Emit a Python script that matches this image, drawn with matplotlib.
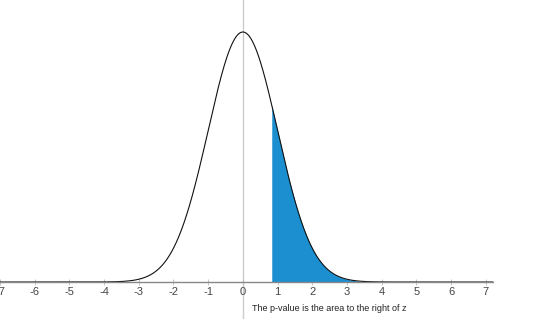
import numpy as np
import matplotlib
matplotlib.use("Agg")
import matplotlib.pyplot as plt

z_value = 0.83
tick_values = list(range(-7, 8))
caption = "The p-value is the area to the right of z"

x = np.linspace(-7.2, 7.2, 2000)
pdf = np.exp(-x**2 / 2) / np.sqrt(2 * np.pi)

fig = plt.figure(figsize=(5.6, 3.19), dpi=100)
ax = fig.add_axes([0, 0, 1, 1])
ax.set_xlim(-6.77, 9.14)
ax.set_ylim(-0.059, 0.45)

ax.axvline(0, color="#cccccc", lw=1, zorder=1)

mask = x >= z_value
ax.fill_between(x[mask], 0, pdf[mask], color="#1b8fd0", lw=0, zorder=2)
ax.plot(x, pdf, color="#111111", lw=0.8, zorder=3)

for s in ["top", "right", "left"]:
    ax.spines[s].set_visible(False)
ax.spines["bottom"].set_position(("data", 0))
ax.spines["bottom"].set_bounds(-7.2, 7.2)
ax.spines["bottom"].set_color("#888888")
ax.spines["bottom"].set_linewidth(1.0)
ax.spines["bottom"].set_zorder(4)
ax.set_yticks([])
ax.set_xticks(tick_values)
ax.set_xticklabels([str(t) for t in tick_values], fontfamily="Liberation Sans", fontsize=8, color="#444444")
ax.tick_params(axis="x", direction="inout", length=5, width=0.6, color="#bbbbbb", pad=1)
ax.set_facecolor("white")

ax.text(0.27, -0.042, caption, fontfamily="Liberation Sans", fontsize=6.5, color="#222222", va="center", ha="left")

fig.savefig("out.png", dpi=100, facecolor="white")
